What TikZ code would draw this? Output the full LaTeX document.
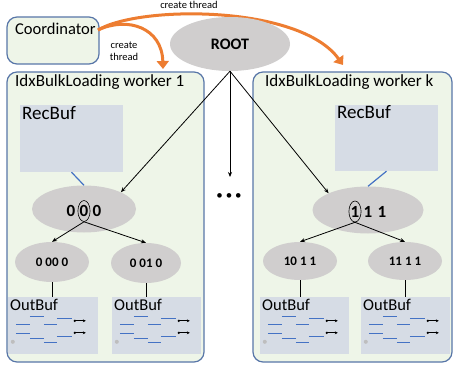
\documentclass[tikz,border=0pt]{standalone}
\usepackage{fontspec}
\setmainfont{Carlito}
\usetikzlibrary{shapes.geometric,arrows.meta}
\definecolor{boxgreen}{RGB}{238,245,232}
\definecolor{boxline}{RGB}{88,118,168}
\definecolor{bufgray}{RGB}{214,220,229}
\definecolor{nodegray}{RGB}{208,206,206}
\definecolor{dashblue}{RGB}{68,114,196}
\definecolor{threadorange}{RGB}{237,125,49}
\definecolor{dotgray}{RGB}{190,190,190}
\begin{document}
\begin{tikzpicture}[x=1pt,y=-1pt,
  panel/.style={draw=boxline,line width=1.2pt,fill=boxgreen,rounded corners=10pt,inner sep=0pt},
  buf/.style={fill=bufgray,inner sep=0pt},
  knot/.style={ellipse,fill=nodegray,inner sep=0pt},
  paneltitle/.style={anchor=base west,inner sep=0pt,font=\fontsize{17}{18}\selectfont},
  bufname/.style={anchor=base west,inner sep=0pt},
  digitlabel/.style={inner sep=0pt,font=\bfseries\fontsize{17}{18}\selectfont},
  childkey/.style={font=\bfseries\fontsize{13}{14}\selectfont},
  rootlink/.style={-{Stealth[length=5pt,width=4pt]},line width=0.8pt},
  threadarrow/.style={-{Triangle[length=8pt,width=12pt]},line width=3pt,threadorange},
  threadnote/.style={font=\fontsize{10.5}{12.5}\selectfont,align=center,inner sep=0pt}]
\useasboundingbox (0,0) rectangle (453,369);
\node[panel,minimum width=92pt,minimum height=47pt] (coord) at (53,40.5) {};
\node[paneltitle,font=\fontsize{16.5}{18}\selectfont] (coordname) at (15,34.5) {Coordinator};
\node[panel,minimum width=197pt,minimum height=290pt] (w1) at (105.5,217) {};
\node[panel,minimum width=199pt,minimum height=290pt] (wk) at (352.5,217) {};
\node[paneltitle] (w1name) at (15,87) {IdxBulkLoading worker 1};
\node[paneltitle] (wkname) at (265,87) {IdxBulkLoading worker k};
\coordinate (tstart) at (98,30);
\coordinate (t1) at (163,69);
\coordinate (tk) at (343,65);
\draw[threadarrow] (tstart) .. controls (128,16) and (162,28) .. (t1);
\draw[threadarrow] (tstart) .. controls (140,5) and (300,5) .. (tk);
\node[threadnote] (note1) at (189,5) {create thread};
\node[threadnote] (note2) at (124,51) {create\\thread};
\node[knot,minimum width=120pt,minimum height=54pt,font=\bfseries\fontsize{16}{18}\selectfont] (root) at (230,44) {ROOT};
\node[buf,minimum width=103pt,minimum height=67pt] (rb1) at (71.5,138.5) {};
\node[buf,minimum width=103pt,minimum height=66pt] (rbk) at (386.5,138) {};
\node[bufname,font=\fontsize{19}{20}\selectfont] (rb1name) at (22,120) {RecBuf};
\node[bufname,font=\fontsize{19}{20}\selectfont] (rbkname) at (337,119) {RecBuf};
\node[knot,minimum width=104pt,minimum height=47pt] (e000) at (84,209) {};
\node[knot,minimum width=111pt,minimum height=47pt] (e111) at (368,210) {};
\node[digitlabel] (d0a) at (71,210.5) {0};
\node[digitlabel,draw,ellipse,line width=0.6pt,minimum width=11pt,minimum height=21pt] (d0b) at (84,211) {0};
\node[digitlabel] (d0c) at (97,210.5) {0};
\node[digitlabel,draw,ellipse,line width=0.6pt,minimum width=11pt,minimum height=21pt] (d1a) at (355,211.5) {1};
\node[digitlabel] (d1b) at (368,211.5) {1};
\node[digitlabel] (d1c) at (382,211.5) {1};
\node[knot,childkey,minimum width=74pt,minimum height=40pt] (c0000) at (52,262) {0 00 0};
\node[knot,childkey,minimum width=70pt,minimum height=40pt] (c0010) at (146,263) {0 01 0};
\node[knot,childkey,minimum width=74pt,minimum height=38pt] (c1011) at (300,261) {10 1 1};
\node[knot,childkey,minimum width=74pt,minimum height=38pt] (c1111) at (405,261) {11 1 1};
\node[buf,minimum width=90pt,minimum height=57pt] (ob1) at (53,325.5) {};
\node[buf,minimum width=89pt,minimum height=57pt] (ob2) at (156.5,325.5) {};
\node[buf,minimum width=89pt,minimum height=57pt] (ob3) at (304.5,325.5) {};
\node[buf,minimum width=89pt,minimum height=57pt] (ob4) at (405.5,325.5) {};
\node[bufname,font=\fontsize{16.5}{18}\selectfont] (ob1name) at (10,310) {OutBuf};
\node[bufname,font=\fontsize{16.5}{18}\selectfont] (ob2name) at (114,310) {OutBuf};
\node[bufname,font=\fontsize{16.5}{18}\selectfont] (ob3name) at (262,310) {OutBuf};
\node[bufname,font=\fontsize{16.5}{18}\selectfont] (ob4name) at (363,310) {OutBuf};
\coordinate (gap) at (230,177);
\draw[rootlink] (root.south) -- (e000.north east);
\draw[rootlink] (root.south) -- (e111.north west);
\draw[rootlink] (root.south) -- (gap);
\node[font=\fontsize{13}{14}\selectfont] (dots) at (229,197) {\textbullet\hspace{3pt}\textbullet\hspace{3pt}\textbullet};
\draw[dashblue,line width=1.2pt] (rb1.south) -- (e000.north);
\draw[dashblue,line width=1.2pt] (rbk.south) -- (e111.north);
\draw[rootlink] (d0b.south) -- (c0000.north);
\draw[rootlink] (d0b.south) -- (c0010.north);
\draw[rootlink] (d1a.south) -- (c1011.north);
\draw[rootlink] (d1a.south) -- (c1111.north);
\draw[line width=1pt] (c0000.south) -- (c0000.south |- ob1.north);
\draw[line width=1pt] (c0010.south) -- (c0010.south |- ob2.north);
\draw[line width=1pt] (c1011.south) -- (c1011.south |- ob3.north);
\draw[line width=1pt] (c1111.south) -- (c1111.south |- ob4.north);
\foreach \b in {ob1,ob2,ob3,ob4}{
  \begin{scope}[shift={(\b.north west)}]
    \foreach \xa/\xb/\yy in {22/36/20,49/64/22,8/22/28,36/49/28,8/22/37,22/36/42,49/64/40,36/49/46}
      \draw[dashblue,line width=1.2pt] (\xa,\yy) -- (\xb,\yy);
    \foreach \yy in {24,36}{
      \draw[-{Stealth[length=3pt,width=3pt]},line width=0.7pt] (66,\yy) -- (78,\yy);
      \fill (67,\yy) circle (1.3);}
    \fill[dotgray] (5,45) circle (2);
  \end{scope}}
\end{tikzpicture}
\end{document}
